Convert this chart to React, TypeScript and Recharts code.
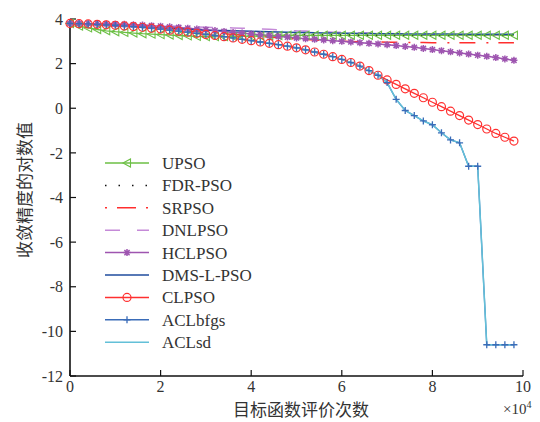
import { LineChart, Line, XAxis, YAxis, Label } from "recharts";

/* x in units of 10^4 evaluations */
const evals = [
  0, 0.2, 0.4, 0.6, 0.8, 1.0, 1.2, 1.4, 1.6, 1.8,
  2.0, 2.2, 2.4, 2.6, 2.8, 3.0, 3.2, 3.4, 3.6, 3.8,
  4.0, 4.2, 4.4, 4.6, 4.8, 5.0, 5.2, 5.4, 5.6, 5.8,
  6.0, 6.2, 6.4, 6.6, 6.8, 7.0, 7.2, 7.4, 7.6, 7.8,
  8.0, 8.2, 8.4, 8.6, 8.8, 9.0, 9.2, 9.4, 9.6, 9.8,
];

const upso = [
  3.8, 3.68, 3.6, 3.53, 3.47, 3.43, 3.4, 3.37, 3.34, 3.32,
  3.3, 3.28, 3.26, 3.24, 3.22, 3.21, 3.21, 3.21, 3.22, 3.22,
  3.23, 3.24, 3.25, 3.26, 3.27, 3.27, 3.27, 3.27, 3.27, 3.27,
  3.27, 3.27, 3.27, 3.27, 3.27, 3.27, 3.27, 3.27, 3.27, 3.27,
  3.27, 3.27, 3.27, 3.27, 3.27, 3.27, 3.27, 3.27, 3.27, 3.27,
];
const fdrpso = [
  3.8, 3.77, 3.75, 3.72, 3.69, 3.66, 3.64, 3.62, 3.6, 3.58,
  3.56, 3.54, 3.52, 3.5, 3.48, 3.46, 3.44, 3.42, 3.41, 3.39,
  3.38, 3.37, 3.36, 3.35, 3.34, 3.33, 3.32, 3.31, 3.31, 3.3,
  3.29, 3.29, 3.28, 3.28, 3.28, 3.28, 3.28, 3.28, 3.28, 3.28,
  3.28, 3.28, 3.28, 3.28, 3.28, 3.28, 3.28, 3.28, 3.28, 3.28,
];
const srpso = [
  3.8, 3.78, 3.76, 3.74, 3.72, 3.7, 3.67, 3.64, 3.61, 3.58,
  3.55, 3.52, 3.49, 3.46, 3.43, 3.4, 3.37, 3.34, 3.31, 3.28,
  3.25, 3.22, 3.19, 3.16, 3.13, 3.1, 3.08, 3.06, 3.04, 3.02,
  3.0, 2.99, 2.98, 2.97, 2.97, 2.96, 2.96, 2.95, 2.95, 2.95,
  2.94, 2.94, 2.94, 2.94, 2.93, 2.93, 2.93, 2.93, 2.93, 2.93,
];
const dnlpso = [
  3.8, 3.8, 3.79, 3.79, 3.78, 3.77, 3.76, 3.75, 3.73, 3.72,
  3.7, 3.69, 3.67, 3.66, 3.64, 3.63, 3.62, 3.61, 3.6, 3.59,
  3.58, 3.56, 3.54, 3.52, 3.49, 3.47, 3.46, 3.44, 3.43, 3.41,
  3.4, 3.39, 3.38, 3.37, 3.36, 3.35, 3.34, 3.34, 3.33, 3.33,
  3.32, 3.32, 3.31, 3.31, 3.3, 3.3, 3.3, 3.29, 3.29, 3.29,
];
const hclpso = [
  3.8, 3.8, 3.79, 3.79, 3.78, 3.77, 3.76, 3.74, 3.73, 3.7,
  3.68, 3.65, 3.62, 3.59, 3.55, 3.52, 3.48, 3.44, 3.4, 3.37,
  3.33, 3.29, 3.26, 3.22, 3.19, 3.15, 3.12, 3.09, 3.06, 3.03,
  3.0, 2.97, 2.94, 2.91, 2.88, 2.85, 2.81, 2.77, 2.73, 2.68,
  2.63, 2.58, 2.53, 2.48, 2.43, 2.38, 2.33, 2.27, 2.21, 2.15,
];
const dmslpso = [
  3.8, 3.78, 3.76, 3.74, 3.72, 3.7, 3.68, 3.66, 3.64, 3.62,
  3.6, 3.58, 3.56, 3.54, 3.52, 3.5, 3.49, 3.48, 3.47, 3.46,
  3.45, 3.44, 3.43, 3.42, 3.41, 3.4, 3.39, 3.38, 3.37, 3.37,
  3.36, 3.36, 3.35, 3.35, 3.34, 3.34, 3.34, 3.33, 3.33, 3.33,
  3.33, 3.33, 3.33, 3.32, 3.32, 3.32, 3.32, 3.32, 3.32, 3.32,
];
const clpso = [
  3.8, 3.79, 3.78, 3.76, 3.74, 3.72, 3.69, 3.66, 3.63, 3.59,
  3.55, 3.5, 3.46, 3.41, 3.36, 3.31, 3.26, 3.21, 3.15, 3.09,
  3.03, 2.97, 2.91, 2.85, 2.78, 2.71, 2.62, 2.52, 2.42, 2.31,
  2.19, 2.05, 1.89, 1.69, 1.48, 1.27, 1.07, 0.87, 0.67, 0.47,
  0.27, 0.07, -0.13, -0.33, -0.53, -0.73, -0.93, -1.13, -1.3, -1.47,
];
const aclbfgs = [
  3.8, 3.79, 3.78, 3.76, 3.74, 3.72, 3.69, 3.66, 3.63, 3.59,
  3.55, 3.5, 3.46, 3.41, 3.36, 3.31, 3.26, 3.21, 3.15, 3.09,
  3.03, 2.97, 2.91, 2.85, 2.78, 2.71, 2.62, 2.52, 2.42, 2.31,
  2.19, 2.05, 1.89, 1.69, 1.48, 1.15, 0.4, -0.1, -0.33, -0.57,
  -0.74, -1.1, -1.42, -1.55, -2.6, -2.6, -10.6, -10.6, -10.6, -10.6,
];
const aclsd = [
  3.8, 3.79, 3.78, 3.76, 3.74, 3.72, 3.69, 3.66, 3.63, 3.59,
  3.55, 3.5, 3.46, 3.41, 3.36, 3.31, 3.26, 3.21, 3.15, 3.09,
  3.03, 2.97, 2.91, 2.85, 2.78, 2.71, 2.62, 2.52, 2.42, 2.31,
  2.19, 2.05, 1.89, 1.69, 1.48, 1.15, 0.4, -0.1, -0.33, -0.57,
  -0.74, -1.1, -1.42, -1.55, -2.6, -2.6, -10.6, -10.6, -10.6, -10.6,
];

const xTicks = [0, 2, 4, 6, 8, 10];
const yTicks = [-12, -10, -8, -6, -4, -2, 0, 2, 4];

const data = evals.map((x, i) => ({
  x,
  upso: upso[i],
  fdr: fdrpso[i],
  srpso: srpso[i],
  dnlpso: dnlpso[i],
  hclpso: hclpso[i],
  dms: dmslpso[i],
  clpso: clpso[i],
  aclbfgs: aclbfgs[i],
  aclsd: aclsd[i],
}));

const SERIF = "'Liberation Serif', 'Times New Roman', serif";
const CJK = "'Noto Sans CJK SC', sans-serif";

const C = {
  upso: "#6cbf45",
  fdr: "#111111",
  srpso: "#ff2e2e",
  dnlpso: "#c58ad8",
  hclpso: "#9e55b0",
  dms: "#1f4c9e",
  clpso: "#ff3030",
  aclbfgs: "#3a6cb8",
  aclsd: "#63c0d8",
};

/* ---------- markers ---------- */
type MK = "tri" | "circle" | "star" | "plus";

function marker(kind: MK, color: string, cx: number, cy: number, key?: any) {
  if (kind === "tri")
    return (
      <path key={key} d={`M${cx - 4},${cy} L${cx + 3.5},${cy - 4} L${cx + 3.5},${cy + 4} Z`}
        fill="none" stroke={color} strokeWidth={1.1} />
    );
  if (kind === "circle")
    return <circle key={key} cx={cx} cy={cy} r={4} fill="none" stroke={color} strokeWidth={1.2} />;
  if (kind === "star")
    return (
      <path key={key}
        d={`M${cx - 3.5},${cy} L${cx + 3.5},${cy} M${cx},${cy - 3.5} L${cx},${cy + 3.5} M${cx - 2.6},${cy - 2.6} L${cx + 2.6},${cy + 2.6} M${cx - 2.6},${cy + 2.6} L${cx + 2.6},${cy - 2.6}`}
        stroke={color} strokeWidth={1.5} />
    );
  return (
    <path key={key} d={`M${cx - 3.5},${cy} L${cx + 3.5},${cy} M${cx},${cy - 3.5} L${cx},${cy + 3.5}`}
      stroke={color} strokeWidth={1.3} />
  );
}

const dotOf = (kind: MK, color: string) => (p: any) => {
  if (p.cx == null || p.cy == null) return <g key={p.index} />;
  return marker(kind, color, p.cx, p.cy, p.index);
};

/* ---------- legend (drawn beside the chart, over the plot) ---------- */
const legendRows: { name: string; color: string; dash?: string; mk?: MK }[] = [
  { name: "UPSO", color: C.upso, mk: "tri" },
  { name: "FDR-PSO", color: C.fdr, dash: "1.5 12" },
  { name: "SRPSO", color: C.srpso, dash: "2 10 19 10" },
  { name: "DNLPSO", color: C.dnlpso, dash: "15 17" },
  { name: "HCLPSO", color: C.hclpso, mk: "star" },
  { name: "DMS-L-PSO", color: C.dms },
  { name: "CLPSO", color: C.clpso, mk: "circle" },
  { name: "ACLbfgs", color: C.aclbfgs, mk: "plus" },
  { name: "ACLsd", color: C.aclsd },
];

function LegendBox() {
  const rowH = 22.4;
  return (
    <svg width={175} height={rowH * legendRows.length + 6}
      style={{ position: "absolute", left: 105, top: 152 }}>
      {legendRows.map((r, i) => {
        const y = 11 + i * rowH;
        return (
          <g key={r.name}>
            <line x1={0} x2={44} y1={y} y2={y} stroke={r.color} strokeWidth={1.5}
              strokeDasharray={r.dash} />
            {r.mk && marker(r.mk, r.color, 22, y)}
            <text x={57} y={y + 6} fontFamily={SERIF} fontSize={17} fill="#333">
              {r.name}
            </text>
          </g>
        );
      })}
    </svg>
  );
}

export default function App() {
  return (
    <div style={{ position: "absolute", left: 0, top: 0, width: 540, height: 422, background: "#fff" }}>
      <LineChart width={540} height={422} data={data}
        margin={{ top: 19, right: 17, bottom: 16, left: 0 }}>
        <XAxis dataKey="x" type="number" domain={[0, 10]} ticks={xTicks}
          tickSize={-6} tickMargin={11} height={30}
          axisLine={{ stroke: "#111", strokeWidth: 1.6 }}
          tickLine={{ stroke: "#111", strokeWidth: 1.2 }}
          tick={{ fill: "#333", fontFamily: SERIF, fontSize: 16 }}>
          <Label content={() => (
            <g>
              <text x={301} y={416} textAnchor="middle" fontFamily={CJK} fontSize={17} fill="#333">
                目标函数评价次数
              </text>
              <text x={503} y={414} fontFamily={SERIF} fontSize={15} fill="#333">
                ×10<tspan dy={-6} fontSize={10}>4</tspan>
              </text>
            </g>
          )} />
        </XAxis>
        <XAxis xAxisId="top" dataKey="x" type="number" domain={[0, 10]} orientation="top"
          height={0} tick={false} tickLine={false}
          axisLine={{ stroke: "#111", strokeWidth: 1.6 }} />
        <YAxis type="number" domain={[-12, 4]} ticks={yTicks} width={70}
          tickSize={-6} tickMargin={13} interval={0}
          axisLine={{ stroke: "#111", strokeWidth: 1.6 }}
          tickLine={{ stroke: "#111", strokeWidth: 1.2 }}
          tick={{ fill: "#333", fontFamily: SERIF, fontSize: 16 }}>
          <Label content={() => (
            <text x={26} y={190} transform="rotate(-90 26 190)" textAnchor="middle"
              dominantBaseline="middle" fontFamily={CJK} fontSize={17} fill="#333">
              收敛精度的对数值
            </text>
          )} />
        </YAxis>
        <YAxis yAxisId="right" type="number" domain={[-12, 4]} orientation="right" width={0}
          tick={false} tickLine={false} axisLine={{ stroke: "#111", strokeWidth: 1.6 }} />

        <Line dataKey="upso" stroke={C.upso} strokeWidth={1.3} dot={dotOf("tri", C.upso)}
          isAnimationActive={false} />
        <Line dataKey="fdr" stroke={C.fdr} strokeWidth={1.5} strokeDasharray="1.5 7.5" dot={false}
          isAnimationActive={false} />
        <Line dataKey="srpso" stroke={C.srpso} strokeWidth={1.5} strokeDasharray="16 11 2 10" dot={false}
          isAnimationActive={false} />
        <Line dataKey="dnlpso" stroke={C.dnlpso} strokeWidth={1.5} strokeDasharray="15 17" dot={false}
          isAnimationActive={false} />
        <Line dataKey="hclpso" stroke={C.hclpso} strokeWidth={1.5} dot={dotOf("star", C.hclpso)}
          isAnimationActive={false} />
        <Line dataKey="dms" stroke={C.dms} strokeWidth={1.5} dot={false}
          isAnimationActive={false} />
        <Line dataKey="clpso" stroke={C.clpso} strokeWidth={1.3} dot={dotOf("circle", C.clpso)}
          isAnimationActive={false} />
        <Line dataKey="aclbfgs" stroke={C.aclbfgs} strokeWidth={1.3} dot={dotOf("plus", C.aclbfgs)}
          isAnimationActive={false} />
        <Line dataKey="aclsd" stroke={C.aclsd} strokeWidth={1.5} dot={false}
          isAnimationActive={false} />
      </LineChart>
      <LegendBox />
    </div>
  );
}
